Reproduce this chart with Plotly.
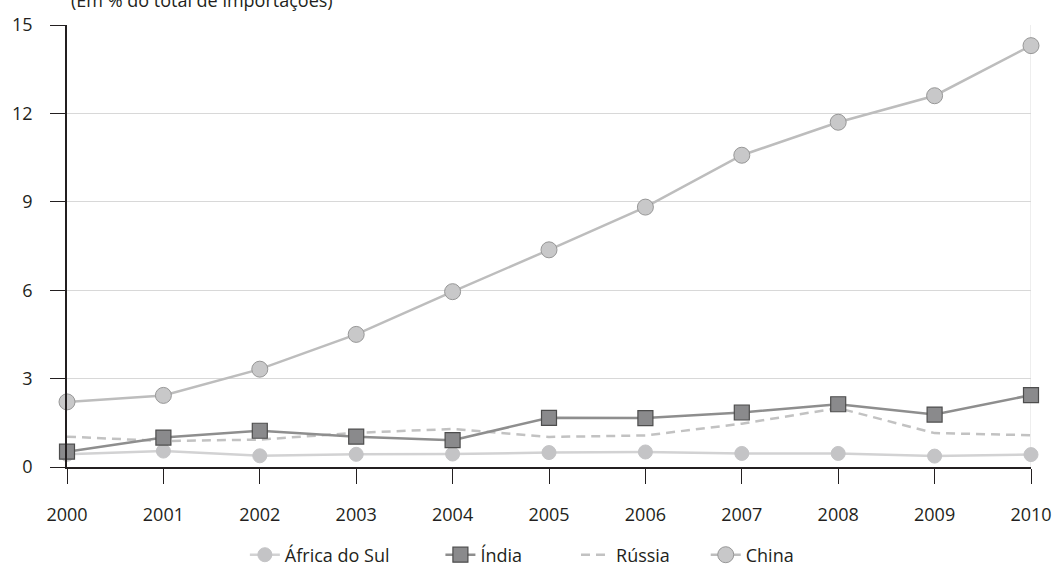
import plotly.graph_objects as go

years = [2000, 2001, 2002, 2003, 2004, 2005, 2006, 2007, 2008, 2009, 2010]
africa_do_sul = [0.43, 0.54, 0.38, 0.43, 0.44, 0.49, 0.51, 0.46, 0.46, 0.37, 0.42]
india = [0.52, 1.00, 1.23, 1.03, 0.91, 1.67, 1.66, 1.85, 2.13, 1.78, 2.44]
russia = [1.03, 0.88, 0.93, 1.16, 1.29, 1.02, 1.07, 1.47, 2.00, 1.15, 1.08]
china = [2.21, 2.43, 3.32, 4.50, 5.95, 7.37, 8.82, 10.58, 11.70, 12.60, 14.30]

y_ticks = [0, 3, 6, 9, 12, 15]
title_text = "(Em % do total de importações)"

FONT = "Open Sans"
TXT = "#231f20"

W, H = 1064, 585
L, R, T, B = 62, 21, 22, 106
pw = W - L - R
ph = H - T - B

def px_x(p):
    return (p - L) / pw

def px_y(p):
    return (H - B - p) / ph

fig = go.Figure()

fig.add_trace(go.Scatter(
    x=years, y=africa_do_sul, name="África do Sul", mode="lines+markers",
    line=dict(color="#d2d2d3", width=2.5),
    marker=dict(symbol="circle", size=14, color="#c4c4c6", line=dict(color="#c4c4c6", width=1)),
    cliponaxis=False, legend="legend",
))
fig.add_trace(go.Scatter(
    x=years, y=russia, name="Rússia", mode="lines",
    line=dict(color="#c2c2c2", width=2.5, dash="9px,6px"),
    cliponaxis=False, legend="legend3",
))
fig.add_trace(go.Scatter(
    x=years, y=india, name="Índia", mode="lines+markers",
    line=dict(color="#8e8e8e", width=2.5),
    marker=dict(symbol="square", size=15, color="#8a8a8c", line=dict(color="#4d4d4d", width=1.2)),
    cliponaxis=False, legend="legend2",
))
fig.add_trace(go.Scatter(
    x=years, y=china, name="China", mode="lines+markers",
    line=dict(color="#bdbdbd", width=2.5),
    marker=dict(symbol="circle", size=16, color="#c8c8c9", line=dict(color="#979797", width=1)),
    cliponaxis=False, legend="legend4",
))

leg_common = dict(orientation="h", yanchor="middle", y=px_y(570), xanchor="left",
                  font=dict(family=FONT, size=18, color=TXT), bgcolor="rgba(0,0,0,0)",
                  borderwidth=0, itemclick=False, itemdoubleclick=False)
fig.update_layout(
    legend=dict(x=px_x(243), **leg_common),
    legend2=dict(x=px_x(442), **leg_common),
    legend3=dict(x=px_x(580), **leg_common),
    legend4=dict(x=px_x(712), **leg_common),
)

fig.add_shape(type="line", xref="x", yref="paper", x0=2010, x1=2010, y0=0, y1=1,
              line=dict(color="#dcdcdc", width=1), layer="below")

fig.add_annotation(
    text=title_text, xref="paper", yref="paper", x=px_x(64), y=px_y(11),
    xanchor="left", yanchor="bottom", showarrow=False,
    font=dict(family=FONT, size=18, color=TXT),
)

fig.update_layout(
    width=W, height=H,
    margin=dict(l=L, r=R, t=T, b=B),
    paper_bgcolor="white", plot_bgcolor="white",
    font=dict(family=FONT, size=18, color=TXT),
    showlegend=True,
    xaxis=dict(
        range=[2000, 2010], tickvals=years, ticktext=[str(y) for y in years],
        showgrid=False, zeroline=False, showline=True, linecolor="#231f20", linewidth=1.5,
        ticks="outside", ticklen=15, tickwidth=1, tickcolor="#231f20",
        tickfont=dict(family=FONT, size=18, color=TXT), ticklabelstandoff=16,
    ),
    yaxis=dict(
        range=[0, 15], tickvals=y_ticks,
        showgrid=True, gridcolor="#d8d8d8", gridwidth=1, zeroline=False,
        showline=True, linecolor="#231f20", linewidth=1.5,
        ticks="outside", ticklen=15, tickwidth=1, tickcolor="#231f20",
        tickfont=dict(family=FONT, size=18, color=TXT), ticklabelstandoff=14,
    ),
)

fig.write_html(
    "out.html",
    config={"displayModeBar": False},
    post_script="document.body.style.margin='0';document.body.style.padding='0';document.body.style.overflow='hidden';",
)
